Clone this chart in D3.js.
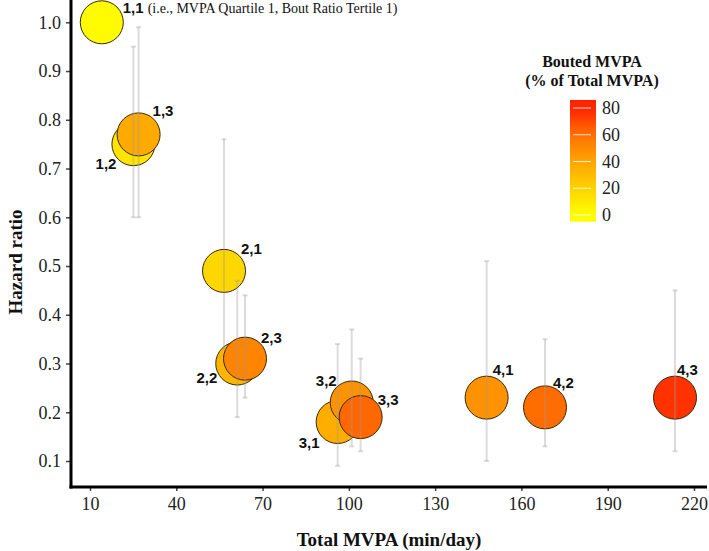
<!DOCTYPE html>
<html>
<head>
<meta charset="utf-8">
<script src="https://cdn.jsdelivr.net/npm/d3@7"></script>
<style>
  html, body { margin: 0; padding: 0; background: #fff; }
  svg { display: block; }
</style>
</head>
<body>
<script>
// ---- data ----
const groups = ['1,1','1,2','1,3','2,1','2,2','2,3','3,1','3,2','3,3','4,1','4,2','4,3'];
const totalMVPA = [14.1, 25.1, 26.9, 56.6, 61.2, 63.9, 96.1, 101.0, 104.1, 147.9, 168.2, 213.4];
const hazardRatio = [1.00, 0.75, 0.77, 0.49, 0.30, 0.31, 0.18, 0.22, 0.19, 0.23, 0.21, 0.23];
const ciLower = [null, 0.60, 0.60, 0.33, 0.19, 0.23, 0.09, 0.13, 0.12, 0.10, 0.13, 0.12];
const ciUpper = [null, 0.95, 0.99, 0.76, 0.47, 0.44, 0.34, 0.37, 0.31, 0.51, 0.35, 0.45];
const boutedPct = [2, 12, 38, 18, 33, 52, 36, 47, 62, 47, 61, 76];
const xTicks = [10, 40, 70, 100, 130, 160, 190, 220];
const yTicks = [0.1, 0.2, 0.3, 0.4, 0.5, 0.6, 0.7, 0.8, 0.9, 1.0];
const legendTicks = [0, 20, 40, 60, 80];
const colorStops = [0, 20, 40, 60, 80];
const colorRange = ['#FFFF00', '#FFD200', '#FFA500', '#FF7000', '#FF2200'];
// label placement (layout only): [dx, dy, anchor]
const labelPlace = [
  [21, -9, 'start'], [-17, 25, 'end'], [14, -18, 'start'],
  [17, -17, 'start'], [-20, 19, 'end'], [16, -16, 'start'],
  [-18, 26, 'end'], [-15, -17, 'end'], [17, -12, 'start'],
  [6, -23, 'start'], [8, -19, 'start'], [2, -23, 'start']
];
const note = '(i.e., MVPA Quartile 1, Bout Ratio Tertile 1)';

const W = 709, H = 551;
const svg = d3.select('body').append('svg').attr('width', W).attr('height', H);

const x = d3.scaleLinear().domain([10, 220]).range([90, 694]);
const y = d3.scaleLinear().domain([0.1, 1.0]).range([461, 22.3]);
const color = d3.scaleLinear().domain(colorStops).range(colorRange).clamp(true);

const serif = 'Liberation Serif, Times New Roman, serif';
const sans = 'Liberation Sans, Arial, sans-serif';

const axisX0 = 71, axisY0 = 487;

// axes ticks
const gy = svg.append('g').attr('transform', `translate(${axisX0},0)`)
  .call(d3.axisLeft(y).tickValues(yTicks).tickFormat(d3.format('.1f')).tickSize(5).tickPadding(5));
const gx = svg.append('g').attr('transform', `translate(0,${axisY0})`)
  .call(d3.axisBottom(x).tickValues(xTicks).tickSize(4).tickPadding(6));
[gy, gx].forEach(g => {
  g.select('.domain').remove();
  g.selectAll('.tick line').attr('stroke', '#444').attr('stroke-width', 1.5);
  g.selectAll('.tick text').attr('font-family', serif).attr('font-size', 18).attr('fill', '#222');
});

// axis lines
svg.append('line').attr('x1', axisX0).attr('x2', axisX0).attr('y1', 0).attr('y2', axisY0 + 1.5)
  .attr('stroke', '#000').attr('stroke-width', 3);
svg.append('line').attr('x1', axisX0 - 1.5).attr('x2', 707).attr('y1', axisY0).attr('y2', axisY0)
  .attr('stroke', '#000').attr('stroke-width', 3);

// axis titles
svg.append('text').attr('transform', 'translate(22,262) rotate(-90)')
  .attr('text-anchor', 'middle').attr('font-family', serif).attr('font-weight', 'bold')
  .attr('font-size', 19).attr('fill', '#111').text('Hazard ratio');
svg.append('text').attr('x', 389).attr('y', 546)
  .attr('text-anchor', 'middle').attr('font-family', serif).attr('font-weight', 'bold')
  .attr('font-size', 19).attr('fill', '#111').text('Total MVPA (min/day)');

const data = groups.map((g, i) => ({
  g, x: totalMVPA[i], hr: hazardRatio[i], lo: ciLower[i], hi: ciUpper[i], pct: boutedPct[i], lp: labelPlace[i]
}));

// circles
svg.append('g').selectAll('circle').data(data).join('circle')
  .attr('cx', d => x(d.x)).attr('cy', d => y(d.hr)).attr('r', 21.5)
  .attr('fill', d => color(d.pct)).attr('stroke', '#3a2800').attr('stroke-width', 1);

// error bars (on top, translucent)
const eb = svg.append('g').attr('stroke', '#9a9a9a').attr('stroke-opacity', 0.35).attr('stroke-width', 2);
data.filter(d => d.lo != null).forEach(d => {
  const cx = x(d.x);
  eb.append('line').attr('x1', cx).attr('x2', cx).attr('y1', y(d.lo)).attr('y2', y(d.hi));
  eb.append('line').attr('x1', cx - 2.5).attr('x2', cx + 2.5).attr('y1', y(d.lo)).attr('y2', y(d.lo));
  eb.append('line').attr('x1', cx - 2.5).attr('x2', cx + 2.5).attr('y1', y(d.hi)).attr('y2', y(d.hi));
});

// group labels
const lab = svg.append('g');
data.forEach((d, i) => {
  const t = lab.append('text')
    .attr('x', x(d.x) + d.lp[0]).attr('y', y(d.hr) + d.lp[1])
    .attr('text-anchor', d.lp[2])
    .attr('font-family', sans).attr('font-weight', 'bold').attr('font-size', 15).attr('fill', '#111')
    .text(d.g);
  if (i === 0) {
    t.append('tspan').attr('dx', 4).attr('font-family', serif).attr('font-weight', 'normal')
      .attr('font-size', 14).text(note);
  }
});

// legend
const lx = 570, lw = 26;
const ly = d3.scaleLinear().domain([0, 80]).range([215, 108]);
const defs = svg.append('defs');
const grad = defs.append('linearGradient').attr('id', 'lg').attr('x1', 0).attr('y1', 1).attr('x2', 0).attr('y2', 0);
const lMin = -5, lMax = 86;
d3.range(0, 11).forEach(k => {
  const v = lMin + (lMax - lMin) * k / 10;
  grad.append('stop').attr('offset', k / 10).attr('stop-color', color(v));
});
svg.append('rect').attr('x', lx).attr('y', ly(lMax)).attr('width', lw).attr('height', ly(lMin) - ly(lMax))
  .attr('fill', 'url(#lg)');
const lg = svg.append('g');
legendTicks.forEach(v => {
  lg.append('line').attr('x1', lx + 3).attr('x2', lx + lw - 5).attr('y1', ly(v)).attr('y2', ly(v))
    .attr('stroke', '#fff').attr('stroke-opacity', 0.8).attr('stroke-width', 1);
  lg.append('text').attr('x', lx + lw + 6).attr('y', ly(v) + 6)
    .attr('font-family', serif).attr('font-size', 18).attr('fill', '#222').text(v);
});
svg.append('text').attr('x', 592).attr('y', 67).attr('text-anchor', 'middle')
  .attr('font-family', serif).attr('font-weight', 'bold').attr('font-size', 16).attr('fill', '#111')
  .text('Bouted MVPA');
svg.append('text').attr('x', 592).attr('y', 86).attr('text-anchor', 'middle')
  .attr('font-family', serif).attr('font-weight', 'bold').attr('font-size', 16).attr('fill', '#111')
  .text('(% of Total MVPA)');
</script>
</body>
</html>
